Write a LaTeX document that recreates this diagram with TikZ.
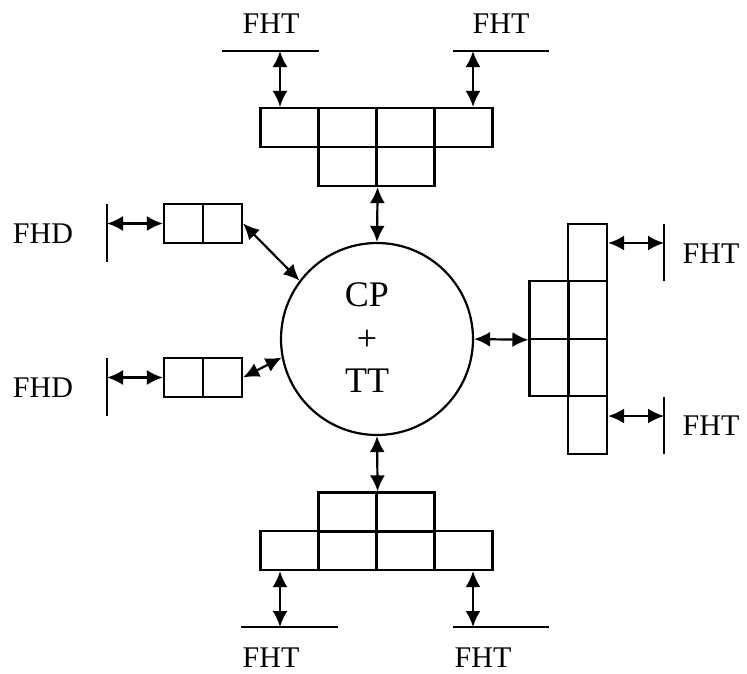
\documentclass[tikz,border=0pt]{standalone}
\usepackage{fontspec}
\setmainfont{Liberation Serif}
\usetikzlibrary{arrows.meta}
\begin{document}
\begin{tikzpicture}[x=1pt,y=-1pt,
  lw/.style={line width=2.2pt},
  hcell/.style={draw, lw, inner sep=0pt, minimum width=58pt, minimum height=39pt},
  scell/.style={draw, lw, inner sep=0pt, minimum width=39pt, minimum height=39pt},
  vcell/.style={draw, lw, inner sep=0pt, minimum width=39pt, minimum height=57.5pt},
  dbl/.style={lw, {Latex[length=16pt,width=15pt]}-{Latex[length=16pt,width=15pt]}},
  bar/.style={lw},
  lbl/.style={inner sep=0pt, font=\fontsize{30}{34}\selectfont},
  big/.style={inner sep=0pt, font=\fontsize{36}{40}\selectfont}]
\useasboundingbox (0,0) rectangle (747,673);

% centre circle
\node[draw, lw, circle, minimum size=192pt, inner sep=0pt] (c) at (377,339) {};
\node[big] (cp) at (367,295) {CP};
\node[big] (plus) at (367,340) {+};
\node[big] (tt) at (367,381) {TT};

% top block
\node[hcell] (t1) at (289.5,127.5) {};
\node[hcell] (t2) at (347.5,127.5) {};
\node[hcell] (t3) at (405.5,127.5) {};
\node[hcell] (t4) at (463.5,127.5) {};
\node[hcell] (t5) at (347.5,166.5) {};
\node[hcell] (t6) at (405.5,166.5) {};
\draw[dbl] (t5.south east) -- (c.north);
\coordinate (tl1) at (222,51); \coordinate (tl2) at (319,51);
\coordinate (tr1) at (453,51); \coordinate (tr2) at (549,51);
\draw[bar] (tl1) -- (tl2);
\draw[bar] (tr1) -- (tr2);
\coordinate (ta1) at (280,51); \coordinate (ta2) at (473,51);
\draw[dbl] (ta1) -- (ta1 |- t1.north);
\draw[dbl] (ta2) -- (ta2 |- t4.north);
\node[lbl] (fht1) at (271,24) {FHT};
\node[lbl] (fht2) at (501,24) {FHT};

% bottom block
\node[hcell] (b1) at (347.5,512) {};
\node[hcell] (b2) at (405.5,512) {};
\node[hcell] (b3) at (289.5,550.5) {};
\node[hcell] (b4) at (347.5,550.5) {};
\node[hcell] (b5) at (405.5,550.5) {};
\node[hcell] (b6) at (463.5,550.5) {};
\draw[dbl] (c.south) -- (b1.north east);
\coordinate (bl1) at (241,627); \coordinate (bl2) at (338,627);
\coordinate (br1) at (453,627); \coordinate (br2) at (549,627);
\draw[bar] (bl1) -- (bl2);
\draw[bar] (br1) -- (br2);
\coordinate (ba1) at (280,627); \coordinate (ba2) at (473,627);
\draw[dbl] (ba1 |- b3.south) -- (ba1);
\draw[dbl] (ba2 |- b6.south) -- (ba2);
\node[lbl] (fht3) at (271,658) {FHT};
\node[lbl] (fht4) at (483,658) {FHT};

% right block
\node[vcell] (r1) at (587.5,252.5) {};
\node[vcell] (r2) at (587.5,310) {};
\node[vcell] (r3) at (587.5,367.5) {};
\node[vcell] (r4) at (587.5,425) {};
\node[vcell] (l2) at (549,310) {};
\node[vcell] (l3) at (549,367.5) {};
\draw[dbl] (c.east) -- (l2.south west);
\draw[bar] (664,224) coordinate (rv1) -- (664,281) coordinate (rv2);
\draw[bar] (664,397) coordinate (rv3) -- (664,454) coordinate (rv4);
\coordinate (ra1) at (664,243); \coordinate (ra2) at (664,416);
\draw[dbl] (ra1 -| r1.east) -- (ra1);
\draw[dbl] (ra2 -| r4.east) -- (ra2);
\node[lbl] (fht5) at (711,254) {FHT};
\node[lbl] (fht6) at (711,426) {FHT};

% left blocks
\node[scell] (d1) at (183.5,223.5) {};
\node[scell] (d2) at (222.5,223.5) {};
\node[scell] (e1) at (183.5,377.5) {};
\node[scell] (e2) at (222.5,377.5) {};
\draw[bar] (107,204) coordinate (lv1) -- (107,262) coordinate (lv2);
\draw[bar] (107,358) coordinate (lv3) -- (107,416) coordinate (lv4);
\coordinate (la1) at (107,223.5); \coordinate (la2) at (107,377.5);
\draw[dbl] (la1) -- (d1.west);
\draw[dbl] (la2) -- (e1.west);
\draw[dbl] (d2.east) -- (c.143);
\draw[dbl] (e2.east) -- (c.191);
\node[lbl] (fhd1) at (43,234) {FHD};
\node[lbl] (fhd2) at (43,388) {FHD};
\end{tikzpicture}
\end{document}
